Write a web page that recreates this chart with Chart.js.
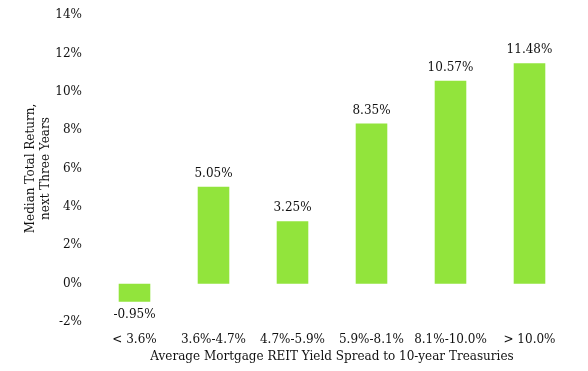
<!DOCTYPE html>
<html>
<head>
<meta charset="utf-8">
<script src="https://cdn.jsdelivr.net/npm/chart.js@4"></script>
<style>
  html, body { margin: 0; padding: 0; background: #fff; }
  #wrap { width: 588px; height: 371px; }
</style>
</head>
<body>
<div id="wrap"><canvas id="chart"></canvas></div>
<script>
const categories = ['< 3.6%', '3.6%-4.7%', '4.7%-5.9%', '5.9%-8.1%', '8.1%-10.0%', '> 10.0%'];
const medianReturns = [-0.95, 5.05, 3.25, 8.35, 10.57, 11.48];
const yTicks = [-2, 0, 2, 4, 6, 8, 10, 12, 14];

const FONT = '"DejaVu Serif", Georgia, serif';

// value labels above (or below) each bar
const barLabels = {
  id: 'barLabels',
  afterDatasetsDraw(chart) {
    const ctx = chart.ctx;
    const meta = chart.getDatasetMeta(0);
    ctx.save();
    ctx.font = '12px ' + FONT;
    ctx.fillStyle = '#111';
    ctx.textAlign = 'center';
    meta.data.forEach((bar, i) => {
      const v = medianReturns[i];
      const txt = v.toFixed(2) + '%';
      if (v >= 0) {
        ctx.textBaseline = 'bottom';
        ctx.fillText(txt, bar.x, bar.y - 7);
      } else {
        ctx.textBaseline = 'top';
        ctx.fillText(txt, bar.x, bar.y + 7);
      }
    });
    ctx.restore();
  }
};

new Chart(document.getElementById('chart').getContext('2d'), {
  type: 'bar',
  data: {
    labels: categories,
    datasets: [{
      data: medianReturns,
      backgroundColor: '#92e43c',
      borderWidth: 0,
      barPercentage: 0.4,
      categoryPercentage: 1.0
    }]
  },
  options: {
    responsive: true,
    maintainAspectRatio: false,
    animation: false,
    layout: { padding: { top: 15, right: 19, left: 0, bottom: 0 } },
    plugins: {
      legend: { display: false },
      tooltip: { enabled: false }
    },
    scales: {
      x: {
        afterFit(scale) {
          scale.height = 49;
        },
        grid: { display: false },
        border: { display: false },
        ticks: { color: '#111', font: { family: FONT, size: 12 }, padding: 3, maxRotation: 0, autoSkip: false },
        title: {
          display: true,
          text: 'Average Mortgage REIT Yield Spread to 10-year Treasuries',
          color: '#111',
          font: { family: FONT, size: 12 },
          padding: { top: 2, bottom: 7 }
        }
      },
      y: {
        min: -2,
        max: 14,
        afterBuildTicks(scale) {
          scale.ticks = yTicks.map(v => ({ value: v }));
        },
        afterFit(scale) {
          scale.width = 95;
        },
        grid: { display: false },
        border: { display: false },
        ticks: {
          color: '#111',
          font: { family: FONT, size: 12 },
          padding: 5,
          callback: v => v + '%'
        },
        title: {
          display: true,
          text: ['Median Total Return,', 'next Three Years'],
          color: '#111',
          font: { family: FONT, size: 12 },
          padding: { top: 24, bottom: 6 }
        }
      }
    }
  },
  plugins: [barLabels]
});
</script>
</body>
</html>
